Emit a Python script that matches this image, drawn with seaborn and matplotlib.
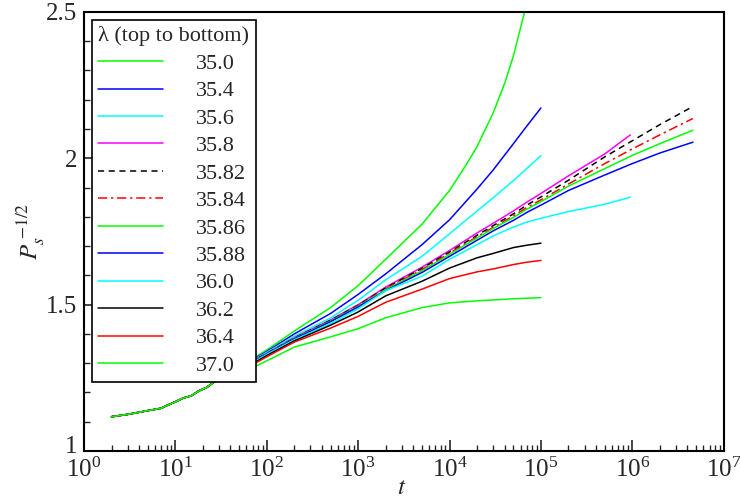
import numpy as np
import matplotlib
matplotlib.use("Agg")
import matplotlib.pyplot as plt
import matplotlib.transforms as mtransforms
from matplotlib.ticker import (LogLocator, FixedLocator, MultipleLocator, FormatStrFormatter,
                               NullFormatter, LogFormatterSciNotation)
import seaborn as sns

sns.set_style("ticks")
plt.rcParams['font.family'] = ['Liberation Serif', 'DejaVu Serif']
plt.rcParams['mathtext.fontset'] = 'stix'

# lambda values, top to bottom
lam_labels = ["35.0", "35.4", "35.6", "35.8", "35.82", "35.84",
              "35.86", "35.88", "36.0", "36.2", "36.4", "37.0"]
colours = ['#00ff00', '#0000ff', '#00ffff', '#ff00ff', 'black', '#ff0000',
           '#00ff00', '#0000ff', '#00ffff', 'black', '#ff0000', '#00ff00']
styles = ['-', '-', '-', '-', (0, (4, 3)), (0, (6, 2.5, 1.5, 2.5)),
          '-', '-', '-', '-', '-', '-']

# shared early part (all curves overlap)
t_early = [2, 3, 5, 7, 8, 10, 12, 15, 18, 22, 26, 30, 40]
y_early = [1.117, 1.125, 1.138, 1.146, 1.155, 1.168, 1.180, 1.189, 1.205,
           1.217, 1.234, 1.245, 1.265]

t_350 = [70, 100, 200, 500, 1e3, 2e3, 5e3, 1e4, 1.5e4, 2e4, 3e4, 4e4, 5e4, 7e4, 1e5]
t_1e5 = [70, 100, 200, 500, 1e3, 2e3, 5e3, 1e4, 2e4, 3e4, 5e4, 7e4, 1e5]
t_1e6 = t_1e5 + [2e5, 5e5, 9.5e5]
t_5e6 = t_1e5 + [2e5, 5e5, 1e6, 2e6, 4.6e6]

y_350 = [1.315, 1.345, 1.41, 1.49, 1.565, 1.655, 1.775, 1.89, 1.975, 2.04, 2.155,
         2.255, 2.35, 2.53, 2.74]
y_354 = [1.312, 1.34, 1.40, 1.47, 1.535, 1.605, 1.705, 1.79, 1.895, 1.96, 2.05, 2.11, 2.172]
y_356 = [1.310, 1.337, 1.392, 1.455, 1.515, 1.585, 1.665, 1.742, 1.82, 1.865, 1.924,
         1.965, 2.009]
y_358 = [1.308, 1.334, 1.387, 1.448, 1.50, 1.56, 1.628, 1.685, 1.745, 1.778, 1.82,
         1.85, 1.88, 1.94, 2.015, 2.08]
y_3582 = [1.307, 1.333, 1.386, 1.447, 1.498, 1.557, 1.624, 1.68, 1.737, 1.77, 1.81,
          1.84, 1.868, 1.925, 2.005, 2.06, 2.115, 2.177]
y_3584 = [1.306, 1.332, 1.385, 1.445, 1.496, 1.554, 1.62, 1.676, 1.732, 1.764, 1.803,
          1.832, 1.858, 1.912, 1.982, 2.032, 2.08, 2.136]
y_3586 = [1.305, 1.331, 1.384, 1.444, 1.494, 1.551, 1.616, 1.672, 1.728, 1.76, 1.798,
          1.826, 1.852, 1.905, 1.965, 2.01, 2.05, 2.096]
y_3588 = [1.304, 1.331, 1.383, 1.442, 1.492, 1.548, 1.61, 1.665, 1.72, 1.752, 1.788,
          1.815, 1.84, 1.89, 1.943, 1.982, 2.018, 2.055]
y_360 = [1.302, 1.330, 1.38, 1.435, 1.486, 1.548, 1.597, 1.655, 1.705, 1.735, 1.765,
         1.782, 1.795, 1.818, 1.843, 1.867]
y_362 = [1.298, 1.326, 1.376, 1.43, 1.475, 1.53, 1.58, 1.625, 1.66, 1.675, 1.695,
         1.703, 1.71]
y_364 = [1.295, 1.322, 1.372, 1.42, 1.46, 1.508, 1.553, 1.589, 1.612, 1.622, 1.637,
         1.645, 1.651]
y_370 = [1.285, 1.308, 1.355, 1.39, 1.418, 1.455, 1.49, 1.506, 1.513, 1.516, 1.52,
         1.522, 1.524]

x_ticks = [1, 10, 100, 1e3, 1e4, 1e5, 1e6, 1e7]
y_ticks = [1, 1.5, 2, 2.5]

series = [(t_350, y_350), (t_1e5, y_354), (t_1e5, y_356), (t_1e6, y_358),
          (t_5e6, y_3582), (t_5e6, y_3584), (t_5e6, y_3586), (t_5e6, y_3588),
          (t_1e6, y_360), (t_1e5, y_362), (t_1e5, y_364), (t_1e5, y_370)]

fig = plt.figure(figsize=(7.4, 4.98), dpi=100)
ax = fig.add_axes([0.1135, 0.0944, 0.8645, 0.8816])

for (tt, yy), lab, c, ls in zip(series, lam_labels, colours, styles):
    x = np.array(t_early + tt, dtype=float)
    y = np.array(y_early + yy)
    sns.lineplot(x=x, y=y, color=c, linestyle=ls, lw=1.1, label=lab, ax=ax,
                 sort=False, estimator=None)

ax.set_xscale('log')
ax.set_xlim(1, 1e7)
ax.set_ylim(1, 2.5)
ax.xaxis.set_major_locator(FixedLocator(x_ticks))
ax.xaxis.set_major_formatter(LogFormatterSciNotation())
ax.xaxis.set_minor_locator(LogLocator(base=10, subs=np.arange(2, 10), numticks=100))
ax.xaxis.set_minor_formatter(NullFormatter())
ax.yaxis.set_major_locator(FixedLocator(y_ticks))
ax.yaxis.set_minor_locator(MultipleLocator(0.1))
ax.yaxis.set_major_formatter(FormatStrFormatter('%g'))

ax.tick_params(which='major', direction='in', length=8, width=1.2, labelsize=18,
               top=False, right=False, pad=5)
ax.tick_params(which='minor', direction='in', length=4, width=1.0,
               top=False, right=False)
for sp in ax.spines.values():
    sp.set_linewidth(1.5)
    sp.set_color('black')

ax.set_xlabel(r'$t$', fontsize=18)
ax.xaxis.set_label_coords(0.497, -0.06)
ax.set_ylabel(r'$P_s^{\;\mathrm{-1/2}}$', fontsize=18)
ax.yaxis.set_label_coords(-0.06, 0.5)

leg = ax.legend(title='λ (top to bottom)', loc='upper left', fontsize=16,
                title_fontsize=16, handlelength=2.9, handletextpad=1.5,
                labelspacing=0.31, borderpad=0.3, borderaxespad=0.35,
                fancybox=False, framealpha=1, edgecolor='black',
                alignment='left')
leg.get_frame().set_linewidth(1.2)

# lift the bottom "1" label a little, as in the original
fig.canvas.draw()
lbl = ax.get_yticklabels()[0]
lbl.set_transform(lbl.get_transform() +
                  mtransforms.ScaledTranslation(0, 5 / 72, fig.dpi_scale_trans))

fig.savefig('out.png', dpi=100)
